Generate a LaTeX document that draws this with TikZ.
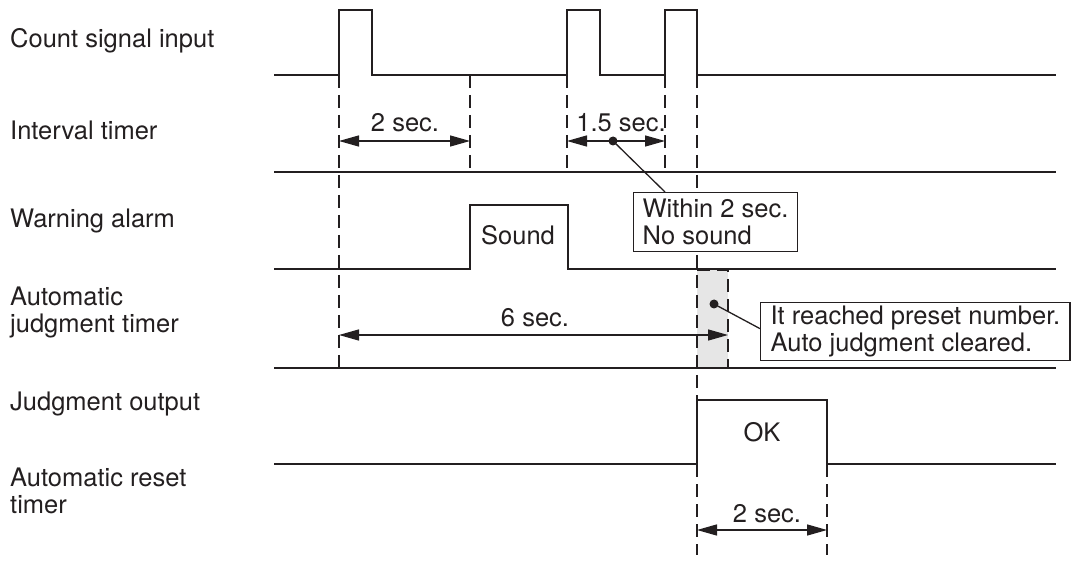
\documentclass[tikz,border=0pt]{standalone}
\usepackage{fontspec}
\setmainfont{TeX Gyre Heros}
\usetikzlibrary{arrows.meta,calc}
\definecolor{ink}{HTML}{231F20}
\definecolor{boxgray}{HTML}{E6E6E6}
\tikzset{
  sig/.style={draw=ink,line width=1.3pt,line join=miter},
  guide/.style={draw=ink,line width=2.2pt,dash pattern=on 13pt off 7pt},
  dim/.style={draw=ink,line width=1.3pt,{Triangle[length=20pt,width=11pt]}-{Triangle[length=20pt,width=11pt]}},
  lbl/.style={text=ink,inner sep=0pt,font=\fontsize{25.5}{27}\selectfont},
  callout/.style={draw=ink,fill=white,line width=1.3pt,text=ink,align=left,anchor=north west,
     font=\fontsize{25.5}{27}\selectfont,inner xsep=9pt,inner ysep=3pt},
  leader/.style={draw=ink,line width=1.3pt},
  dot/.style={circle,fill=ink,inner sep=0pt,minimum size=9pt}
}
\begin{document}
\begin{tikzpicture}[x=1pt,y=-1pt]
\useasboundingbox (0,0) rectangle (1074,561);
% shaded region
\fill[boxgray] (697,270) rectangle (728,368);
% left labels
\node[lbl,anchor=base west] (l1) at (10,48) {Count signal input};
\node[lbl,anchor=base west] (l2) at (10,140) {Interval timer};
\node[lbl,anchor=base west] (l3) at (10,228) {Warning alarm};
\node[lbl,anchor=base west,align=left] (l4) at (10,333) {Automatic\\judgment timer};
\node[lbl,anchor=base west] (l5) at (10,410) {Judgment output};
\node[lbl,anchor=base west,align=left] (l6) at (10,513) {Automatic reset\\timer};
% signals
\draw[sig] (274,75) -- (339,75) -- (339,10) -- (372,10) -- (372,75) -- (567,75) -- (567,10) -- (600,10) -- (600,75) -- (665,75) -- (665,10) -- (697,10) -- (697,75) -- (1056,75);
\draw[sig] (274,172) -- (1056,172);
\draw[sig] (274,269) -- (470,269) -- (470,205) -- (568,205) -- (568,269) -- (1056,269);
\draw[sig] (274,368) -- (1056,368);
\draw[sig] (274,464) -- (697,464) -- (697,400) -- (827,400) -- (827,464) -- (1056,464);
% guides
\draw[guide] (339,75) -- (339,368);
\draw[guide] (470,75) -- (470,172);
\draw[guide] (567,75) -- (567,172);
\draw[guide] (665,75) -- (665,172);
\draw[guide] (697,75) -- (697,400);
\draw[guide] (697,464) -- (697,555);
\draw[guide] (827,464) -- (827,555);
\draw[guide] (697,270) -- (728,270) -- (728,368) -- (697,368);
% dimension arrows
\coordinate (a1) at (339,141); \coordinate (a2) at (470,141);
\coordinate (b1) at (567,141); \coordinate (b2) at (665,141);
\coordinate (c1) at (339,335); \coordinate (c2) at (728,335);
\coordinate (d1) at (697,530); \coordinate (d2) at (827,530);
\draw[dim] (a1) -- (a2);
\draw[dim] (b1) -- (b2);
\draw[dim] (c1) -- (c2);
\draw[dim] (d1) -- (d2);
\node[lbl,anchor=base] (t1) at (405,132) {2 sec.};
\node[lbl,anchor=base] (t2) at (621,132) {1.5 sec.};
\node[lbl,anchor=base] (t3) at (535,327) {6 sec.};
\node[lbl,anchor=base] (t4) at (767,522) {2 sec.};
\node[lbl,anchor=base] (snd) at (518,245) {Sound};
\node[lbl,anchor=base] (ok) at (762,441) {OK};
% callouts
\node[callout,minimum height=59pt] (box1) at (633,192) {Within 2 sec.\\No sound};
\node[callout,minimum height=58pt,inner xsep=10pt] (box2) at (760,302) {It reached preset number.\\Auto judgment cleared.};
\node[dot] (dt1) at (613,141) {};
\node[dot] (dt2) at (714,304) {};
\draw[leader] (dt1.center) -- ($(box1.north west)+(32,0)$);
\draw[leader] (dt2.center) -- ($(box2.west)+(0,-3)$);
\end{tikzpicture}
\end{document}
